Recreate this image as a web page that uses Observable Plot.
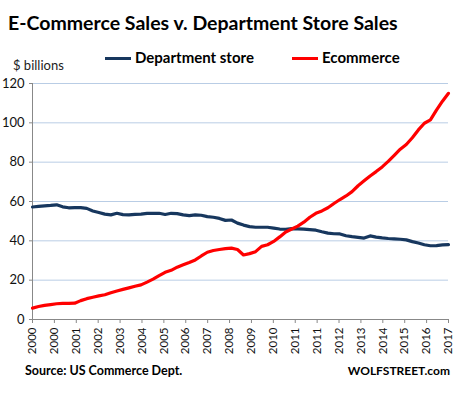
<!DOCTYPE html>
<html>
<head>
<meta charset="utf-8">
<script src="https://cdn.jsdelivr.net/npm/d3@7"></script>
<script src="https://cdn.jsdelivr.net/npm/@observablehq/plot@0.6"></script>
<style>
  body { margin: 0; background: #fff; }
  #wrap { position: relative; width: 456px; height: 393px; font-family: Lato, "Open Sans", sans-serif; color: #000; }
  #wrap .t { position: absolute; line-height: 1; white-space: nowrap; }
  #chart { position: absolute; left: 0; top: 0; }
  .sw { display: inline-block; width: 26px; height: 3px; vertical-align: middle; margin-right: 4px; position: relative; top: -1px; }
</style>
</head>
<body>
<div id="wrap">
  <div id="chart"></div>
  <div class="t" style="left:8px;top:13px;font-size:19.5px;font-weight:bold;">E-Commerce Sales v. Department Store Sales</div>
  <div class="t" style="left:13px;top:59px;font-size:13px;color:#222;">$ billions</div>
  <div class="t" id="lg1" style="left:105px;top:50px;font-size:15px;font-weight:bold;"><span class="sw" style="background:#17375e"></span>Department store</div>
  <div class="t" id="lg2" style="left:292px;top:50px;font-size:15px;font-weight:bold;"><span class="sw" style="background:#ff0000"></span>Ecommerce</div>
  <div class="t" style="left:25px;top:365px;font-size:12.5px;font-weight:bold;">Source: US Commerce Dept.</div>
  <div class="t" style="right:6px;top:365px;font-size:12px;font-weight:bold;">WOLFSTREET.com</div>
</div>
<script>
// Quarterly data, 2000 Q1 .. 2017 Q2 ($ billions)
const deptStore = [
  57.2, 57.5, 57.8, 58.0, 58.3, 57.3, 56.8, 56.9, 56.9, 56.5,
  55.2, 54.4, 53.6, 53.2, 54.0, 53.3, 53.2, 53.5, 53.6, 54.0,
  54.0, 54.0, 53.4, 54.0, 53.8, 53.2, 52.8, 53.2, 53.0, 52.3,
  52.0, 51.4, 50.4, 50.6, 49.0, 48.0, 47.2, 46.9, 46.9, 46.9,
  46.5, 46.0, 45.9, 46.2, 46.1, 46.0, 45.7, 45.4, 44.6, 43.9,
  43.6, 43.5, 42.6, 42.1, 41.8, 41.4, 42.5, 41.9, 41.5, 41.2,
  41.0, 40.8, 40.5, 39.6, 38.9, 38.0, 37.5, 37.6, 37.9, 38.1
];
const ecommerce = [
  5.8, 6.6, 7.2, 7.6, 8.0, 8.2, 8.2, 8.3, 9.6, 10.6,
  11.3, 12.0, 12.6, 13.6, 14.5, 15.3, 16.1, 16.9, 17.6, 19.0,
  20.5, 22.3, 24.0, 25.0, 26.6, 27.8, 29.0, 30.3, 32.3, 34.2,
  35.1, 35.6, 36.0, 36.3, 35.6, 32.8, 33.5, 34.5, 37.2, 38.0,
  39.7, 42.0, 44.5, 46.0, 47.5, 49.5, 52.0, 54.0, 55.2, 56.8,
  59.0, 61.0, 62.8, 65.0, 68.0, 70.5, 73.0, 75.2, 77.6, 80.4,
  83.5, 86.6, 89.0, 92.4, 96.4, 99.8, 101.5, 106.5, 111.0, 115.0
];
const tickLabels = ["2000","2000","2001","2002","2003","2004","2005","2006","2007","2008",
                    "2009","2010","2011","2011","2012","2013","2014","2015","2016","2017"];
const yTicks = [0, 20, 40, 60, 80, 100, 120];

const n = deptStore.length;
const rows = [];
deptStore.forEach((v, i) => rows.push({i, v, s: "Department store"}));
ecommerce.forEach((v, i) => rows.push({i, v, s: "Ecommerce"}));
const last = n - 1;
const tickPos = tickLabels.map((_, k) => k * last / (tickLabels.length - 1));

const chart = Plot.plot({
  width: 456,
  height: 393,
  marginLeft: 32,
  marginRight: 8,
  marginTop: 83,
  marginBottom: 74,
  style: { fontFamily: "Lato, 'Open Sans', sans-serif", fontSize: "13px", color: "#000", background: "transparent" },
  x: { domain: [0, last] },
  y: { domain: [0, 120] },
  color: { domain: ["Department store", "Ecommerce"], range: ["#17375e", "#ff0000"] },
  marks: [
    Plot.gridY(yTicks, { stroke: "#b9cde5", strokeOpacity: 1, strokeWidth: 1 }),
    Plot.axisY(yTicks, { tickSize: 3, tickPadding: 5, stroke: "#888", fontSize: 13, label: null, fill: "#111" }),
    Plot.axisX(tickPos, {
      tickSize: 4, tickPadding: 4, tickRotate: -90, stroke: "#888", fontSize: 11.5, label: null, fill: "#111",
      tickFormat: (d) => tickLabels[tickPos.indexOf(d)]
    }),
    Plot.ruleX([0], { stroke: "#888", strokeWidth: 1 }),
    Plot.ruleY([0], { stroke: "#888", strokeWidth: 1 }),
    Plot.line(rows, { x: "i", y: "v", z: "s", stroke: "s", strokeWidth: 3.2, curve: "linear" })
  ]
});
document.getElementById("chart").appendChild(chart);
</script>
</body>
</html>
